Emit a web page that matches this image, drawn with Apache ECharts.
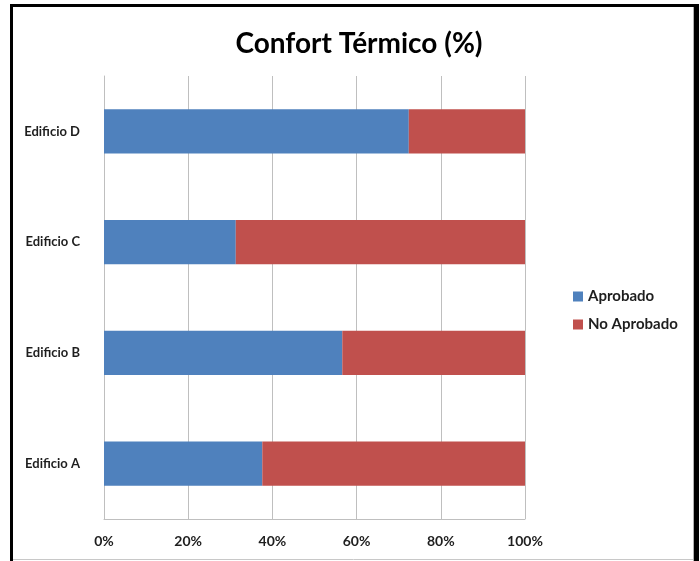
<!DOCTYPE html>
<html>
<head>
<meta charset="utf-8">
<title>Confort Térmico (%)</title>
<script src="https://cdn.jsdelivr.net/npm/echarts@6/dist/echarts.min.js"></script>
<style>
  html, body { margin: 0; padding: 0; background: #ffffff; }
  #chart { width: 700px; height: 561px; }
</style>
</head>
<body>
<div id="chart"></div>
<script>
// Buildings, listed bottom to top
const edificios = ['Edificio A', 'Edificio B', 'Edificio C', 'Edificio D'];
// Share of occupants rating thermal comfort as approved / not approved (%)
const aprobado = [37.6, 56.6, 31.3, 72.4];
const noAprobado = [62.4, 43.4, 68.7, 27.6];
const ticksPct = [0, 20, 40, 60, 80, 100];

const fontFam = 'Lato, "Open Sans", sans-serif';
const textColor = '#1e1e1e';
const gridColor = '#bfbfbf';

const chart = echarts.init(document.getElementById('chart'), null, { renderer: 'canvas' });

chart.setOption({
  backgroundColor: '#ffffff',
  animation: false,
  title: {
    text: 'Confort Térmico (%)',
    left: 354,
    textAlign: 'center',
    top: 25,
    textStyle: { fontFamily: fontFam, fontWeight: 'bold', fontSize: 28, color: '#000000' }
  },
  legend: {
    orient: 'vertical',
    left: 568,
    top: 284,
    itemGap: 13,
    itemWidth: 10,
    itemHeight: 10,
    icon: 'rect',
    textStyle: { fontFamily: fontFam, fontWeight: 'bold', fontSize: 15, color: textColor },
    data: ['Aprobado', 'No Aprobado']
  },
  grid: { left: 104, right: 175, top: 76, bottom: 42, containLabel: false },
  xAxis: {
    type: 'value',
    min: ticksPct[0],
    max: ticksPct[ticksPct.length - 1],
    interval: 20,
    axisLine: { show: true, lineStyle: { color: gridColor, width: 1 } },
    axisTick: { show: false },
    splitLine: { show: true, lineStyle: { color: gridColor, width: 1 } },
    axisLabel: {
      formatter: '{value}%',
      margin: 15,
      fontFamily: fontFam, fontWeight: 'bold', fontSize: 14, color: textColor
    }
  },
  yAxis: {
    type: 'category',
    data: edificios,
    axisLine: { show: true, lineStyle: { color: gridColor, width: 1 } },
    axisTick: { show: false },
    axisLabel: {
      margin: 24,
      fontFamily: fontFam, fontWeight: 'bold', fontSize: 13, color: textColor
    }
  },
  series: [
    {
      name: 'Aprobado',
      type: 'bar',
      stack: 'total',
      barCategoryGap: '60%',
      data: aprobado,
      itemStyle: { color: '#4f81bd' }
    },
    {
      name: 'No Aprobado',
      type: 'bar',
      stack: 'total',
      barCategoryGap: '60%',
      data: noAprobado,
      itemStyle: { color: '#c0504d' }
    }
  ],
  graphic: [
    // outer frame
    { type: 'rect', silent: true, shape: { x: 10, y: 4, width: 3, height: 557 }, style: { fill: '#000000' } },
    { type: 'rect', silent: true, shape: { x: 10, y: 4, width: 689, height: 3 }, style: { fill: '#000000' } },
    { type: 'rect', silent: true, shape: { x: 694, y: 4, width: 5, height: 557 }, style: { fill: '#000000' } },
    { type: 'line', silent: true, shape: { x1: 13, y1: 559.5, x2: 694, y2: 559.5 }, style: { stroke: '#c8c8c8', lineWidth: 1 } },
    { type: 'line', silent: true, shape: { x1: 693.5, y1: 7, x2: 693.5, y2: 561 }, style: { stroke: '#b0b0b0', lineWidth: 1 } }
  ]
});
</script>
</body>
</html>
